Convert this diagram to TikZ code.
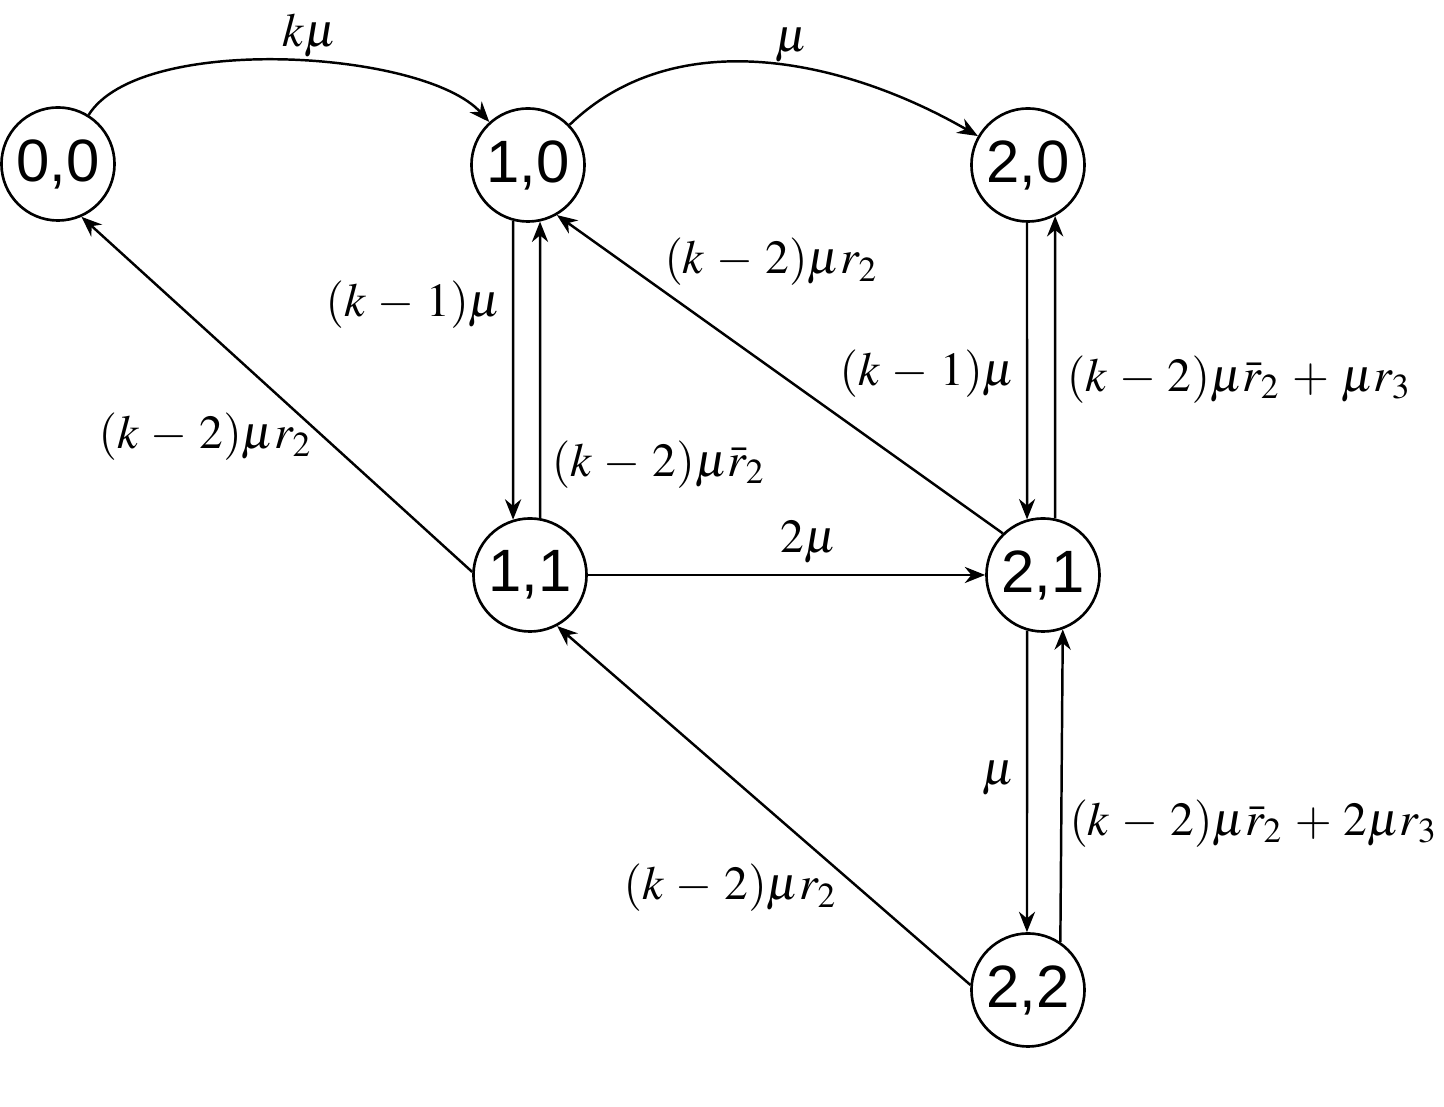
\documentclass[tikz,border=0pt]{standalone}
\usepackage{mathptmx}
\usepackage{fontspec}
\newfontfamily\statefont{Liberation Sans}
\usetikzlibrary{arrows.meta}

\begin{document}
\medmuskip=4.5mu\relax
\begin{tikzpicture}[
  x=0.01cm, y=-0.01cm,
  state/.style={circle, draw, line width=0.75pt, minimum size=1.13cm, inner sep=0pt, font=\statefont\fontsize{17}{20}\selectfont},
  rate/.style={font=\fontsize{13.5}{16}\selectfont, inner sep=3pt},
  line/.style={draw, line width=0.7pt, -{Stealth[length=5.8pt, width=4.6pt]}}
]
  \useasboundingbox (0,0) rectangle (1444,1107);

  % States
  \node[state] (s00) at (58,164) {0,0};
  \node[state] (s10) at (528,165) {1,0};
  \node[state] (s20) at (1028,165) {2,0};
  \node[state] (s11) at (530,575) {1,1};
  \node[state] (s21) at (1043,575) {2,1};
  \node[state] (s22) at (1028,990) {2,2};

  % Top row
  \path[line] (s00.58) to[out=58, in=132, distance=0.97cm] node[rate, above=-2pt, pos=0.55] {$k\mu$} (s10.132);
  \path[line] (s10.44) to[out=44, in=150, distance=1.5cm] node[rate, above=-2pt, pos=0.56] {$\mu$} (s20.150);

  % Column 1
  \path[line] (s10.-105) -- node[rate, left, pos=0.28] {$(k-1)\mu$} (s11.107);
  \path[line] (s11.80) -- node[rate, right, pos=0.18] {$(k-2)\mu\bar{r}_2$} (s10.-78);
  \path[line] (s11.177) -- node[rate, anchor=east, pos=0.38] {$(k-2)\mu r_2$} (s00.-66);

  % Column 2
  \path[line] (s20.-91) -- node[rate, left, pos=0.51] {$(k-1)\mu$} (s21.106);
  \path[line] (s21.78) -- node[rate, right, pos=0.46] {$(k-2)\mu\bar{r}_2+\mu r_3$} (s20.-62);
  \path[line] (s21.134) -- node[rate, anchor=south west, pos=0.785, yshift=-4pt] {$(k-2)\mu r_2$} (s10.-60);
  \path[line] (s11.east) -- node[rate, above, pos=0.555] {$2\mu$} (s21.west);

  % Bottom
  \path[line] (s21.-106) -- node[rate, left, pos=0.49] {$\mu$} (s22.91);
  \path[line] (s22.56) -- node[rate, right, pos=0.38, inner sep=2pt] {$(k-2)\mu\bar{r}_2+2\mu r_3$} (s21.-70);
  \path[line] (s22.175) -- node[rate, anchor=east, pos=0.27, xshift=-1mm] {$(k-2)\mu r_2$} (s11.-62);

\end{tikzpicture}
\end{document}
